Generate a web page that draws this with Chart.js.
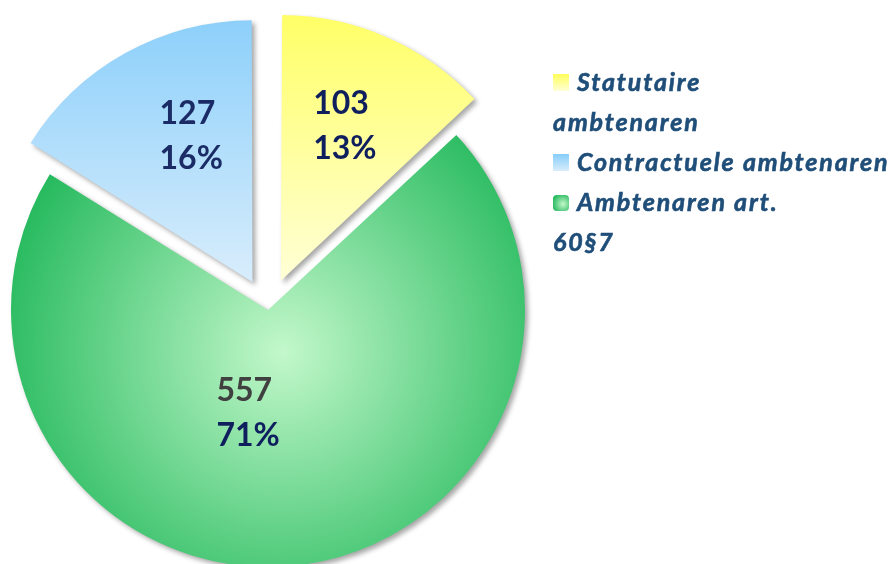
<!DOCTYPE html>
<html>
<head>
<meta charset="utf-8">
<script src="https://cdn.jsdelivr.net/npm/chart.js@4.4.1/dist/chart.umd.min.js"></script>
<style>
  html, body { margin: 0; padding: 0; background: #fff; }
  #wrap { width: 893px; height: 564px; }
</style>
</head>
<body>
<div id="wrap"><canvas id="myChart" width="893" height="564"></canvas></div>
<script>
// slices, clockwise from 12 o'clock
const categories = ["Statutaire ambtenaren", "Ambtenaren art. 60§7", "Contractuele ambtenaren"];
const values = [103, 557, 127];

// legend shows them in another order, with the line breaks of the original
const legendOrder = [0, 2, 1];
const legendLines = [["Statutaire", "ambtenaren"], ["Ambtenaren art.", "60§7"], ["Contractuele ambtenaren"]];

// exploded slices (chart.js moves a slice by offset / 4)
const sliceOffset = [128, 0, 128];
const R = 257;

// label placement around each slice
const labelDist = [0.65, 0.41, 0.614];
const labelTurn = [-1, 16.4, 6.2];
const labelColors = [["#0f1f5e", "#0f1f5e"], ["#404040", "#0f1f5e"], ["#1b2b66", "#1b2b66"]];

const canvas = document.getElementById("myChart");
const c2d = canvas.getContext("2d");

// fills, built round the pie centre
const cx = 268, cy = 310;
const fills = (() => {
  const y = c2d.createLinearGradient(0, cy - R - 40, 0, cy);
  y.addColorStop(0, "#ffff5a");
  y.addColorStop(1, "#ffffd6");
  const g = c2d.createRadialGradient(cx + 15, cy + 42, 0, cx + 15, cy + 42, 300);
  g.addColorStop(0, "#c3f8cb");
  g.addColorStop(1, "#22b85b");
  const b = c2d.createLinearGradient(0, cy - R - 30, 0, cy);
  b.addColorStop(0, "#86cdfa");
  b.addColorStop(1, "#d8edfc");
  return [y, g, b];
})();

const shadowPlugin = {
  id: "shadow",
  beforeDatasetsDraw(chart) {
    const ctx = chart.ctx;
    ctx.save();
    ctx.shadowColor = "rgba(0,0,0,0.35)";
    ctx.shadowBlur = 5;
    ctx.shadowOffsetX = 3;
    ctx.shadowOffsetY = 3;
  },
  afterDatasetsDraw(chart) {
    chart.ctx.restore();
  }
};

const labelPlugin = {
  id: "sliceLabels",
  afterDatasetsDraw(chart) {
    const ctx = chart.ctx;
    const meta = chart.getDatasetMeta(0);
    const total = values.reduce((a, b) => a + b, 0);
    ctx.save();
    ctx.font = "bold 32px Lato";
    ctx.textBaseline = "middle";
    ctx.textAlign = "left";
    meta.data.forEach((arc, i) => {
      const p = arc.getProps(["x", "y", "startAngle", "endAngle", "outerRadius"], true);
      const mid = (p.startAngle + p.endAngle) / 2;
      const shift = (arc.options.offset || 0) / 4;
      const a = mid + labelTurn[i] * Math.PI / 180;
      const d = p.outerRadius * labelDist[i];
      const px = p.x + Math.cos(mid) * shift + Math.cos(a) * d;
      const py = p.y + Math.sin(mid) * shift + Math.sin(a) * d;
      const lines = [String(values[i]), Math.round(values[i] / total * 100) + "%"];
      const w = Math.max(...lines.map(t => ctx.measureText(t).width));
      lines.forEach((t, k) => {
        ctx.fillStyle = labelColors[i][k];
        ctx.fillText(t, px - w / 2, py + (k - 0.5) * 45);
      });
    });
    ctx.restore();
  }
};

const legendPlugin = {
  id: "sideLegend",
  afterDraw(chart) {
    const ctx = chart.ctx;
    const left = 553, textLeft = 577, lineH = 40;
    let base = 91;
    ctx.save();
    ctx.font = "italic bold 25px Lato";
    ctx.letterSpacing = "1.85px";
    ctx.textBaseline = "alphabetic";
    ctx.lineWidth = 0.6;
    legendOrder.forEach(i => {
      // marker
      let grad;
      if (i === 1) {
        grad = ctx.createRadialGradient(left + 10, base - 7, 0, left + 10, base - 7, 11);
        grad.addColorStop(0, "#c3f8cb");
        grad.addColorStop(1, "#22b85b");
      } else {
        grad = ctx.createLinearGradient(0, base - 17, 0, base);
        grad.addColorStop(0, i === 0 ? "#ffff5a" : "#86cdfa");
        grad.addColorStop(1, i === 0 ? "#ffffd6" : "#d8edfc");
      }
      ctx.fillStyle = grad;
      ctx.beginPath();
      if (i === 1) ctx.roundRect(left, base - 16, 16, 16, 4);
      else ctx.rect(left, base - 17, 16, 17);
      ctx.fill();
      ctx.fillStyle = "#1f4e79";
      ctx.strokeStyle = "#1f4e79";
      legendLines[i].forEach((t, k) => {
        const x = k === 0 ? textLeft : left;
        ctx.fillText(t, x, base);
        ctx.strokeText(t, x, base);
        base += lineH;
      });
    });
    ctx.restore();
  }
};

new Chart(canvas, {
  type: "pie",
  data: {
    labels: categories,
    datasets: [
      {
        data: values,
        backgroundColor: fills,
        borderWidth: 0,
        offset: sliceOffset,
        hoverOffset: 0,
        radius: R,
      },
    ],
  },
  options: {
    responsive: false,
    animation: false,
    events: [],
    layout: { padding: { left: 0, top: 56, right: 893 - 2 * cx, bottom: 0 } },
    plugins: {
      legend: { display: false },
      tooltip: { enabled: false },
    },
  },
  plugins: [shadowPlugin, labelPlugin, legendPlugin],
});
</script>
</body>
</html>
